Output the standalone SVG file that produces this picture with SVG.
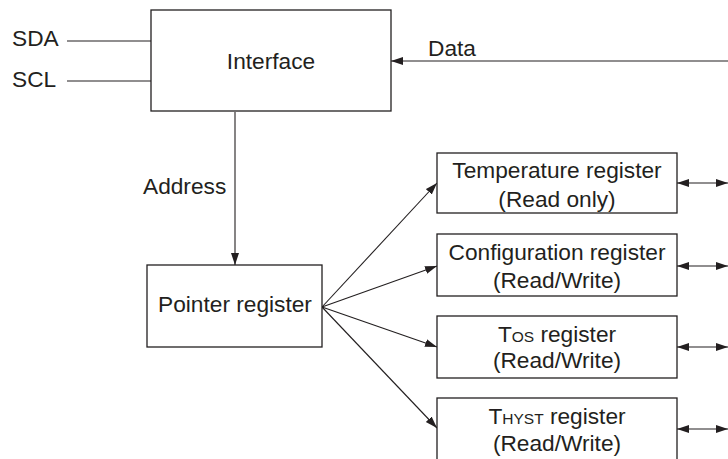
<svg xmlns="http://www.w3.org/2000/svg" width="728" height="459" viewBox="0 0 728 459">
<defs>
<marker id="ah" markerUnits="userSpaceOnUse" markerWidth="14" markerHeight="10" refX="12" refY="4" orient="auto-start-reverse">
<path d="M0,0 L12,4 L0,8 z" fill="#231f20"/>
</marker>
<style>
.box{fill:#fff;stroke:#231f20;stroke-width:1.3}
.ln{fill:none;stroke:#231f20;stroke-width:1.1}
.t{font-family:"Liberation Sans",Arial,Helvetica,sans-serif;font-size:22.7px;fill:#231f20}
.c{text-anchor:middle}
.sm{font-size:15.5px}
</style>
</defs>
<rect width="728" height="459" fill="#fff"/>
<g id="connectors">
<line class="ln" x1="67" y1="41" x2="151" y2="41"/>
<line class="ln" x1="67" y1="81" x2="151" y2="81"/>
<line class="ln" x1="728" y1="61" x2="391" y2="61" marker-end="url(#ah)"/>
<line class="ln" x1="235" y1="112" x2="235" y2="265" marker-end="url(#ah)"/>
<line class="ln" x1="322" y1="307" x2="437" y2="183" marker-end="url(#ah)"/>
<line class="ln" x1="322" y1="307" x2="437" y2="266" marker-end="url(#ah)"/>
<line class="ln" x1="322" y1="307" x2="437" y2="347" marker-end="url(#ah)"/>
<line class="ln" x1="322" y1="307" x2="437" y2="428" marker-end="url(#ah)"/>
<line class="ln" x1="677" y1="183" x2="728" y2="183" marker-start="url(#ah)" marker-end="url(#ah)"/>
<line class="ln" x1="677" y1="266" x2="728" y2="266" marker-start="url(#ah)" marker-end="url(#ah)"/>
<line class="ln" x1="677" y1="347" x2="728" y2="347" marker-start="url(#ah)" marker-end="url(#ah)"/>
<line class="ln" x1="677" y1="429" x2="728" y2="429" marker-start="url(#ah)" marker-end="url(#ah)"/>
<text class="t" x="12" y="46">SDA</text>
<text class="t" x="12" y="87">SCL</text>
<text class="t" x="428" y="56">Data</text>
<text class="t" x="143" y="194">Address</text>
</g>
<g id="interface">
<rect class="box" x="151" y="10" width="240" height="101"/>
<text class="t c" x="271" y="69">Interface</text>
</g>
<g id="pointer">
<rect class="box" x="147" y="265" width="175" height="82"/>
<text class="t c" x="235" y="312">Pointer register</text>
</g>
<g id="temperature">
<rect class="box" x="437" y="153" width="240" height="60"/>
<text class="t c" x="557" y="178">Temperature register</text>
<text class="t c" x="557" y="207">(Read only)</text>
</g>
<g id="configuration">
<rect class="box" x="437" y="234" width="240" height="62"/>
<text class="t c" x="557" y="260">Configuration register</text>
<text class="t c" x="557" y="288">(Read/Write)</text>
</g>
<g id="tos">
<rect class="box" x="437" y="316" width="240" height="62"/>
<text class="t c" x="557" y="342">T<tspan class="sm">OS</tspan> register</text>
<text class="t c" x="557" y="368">(Read/Write)</text>
</g>
<g id="thyst">
<rect class="box" x="437" y="398" width="240" height="70"/>
<text class="t c" x="557" y="424">T<tspan class="sm">HYST</tspan> register</text>
<text class="t c" x="557" y="451">(Read/Write)</text>
</g>
</svg>
